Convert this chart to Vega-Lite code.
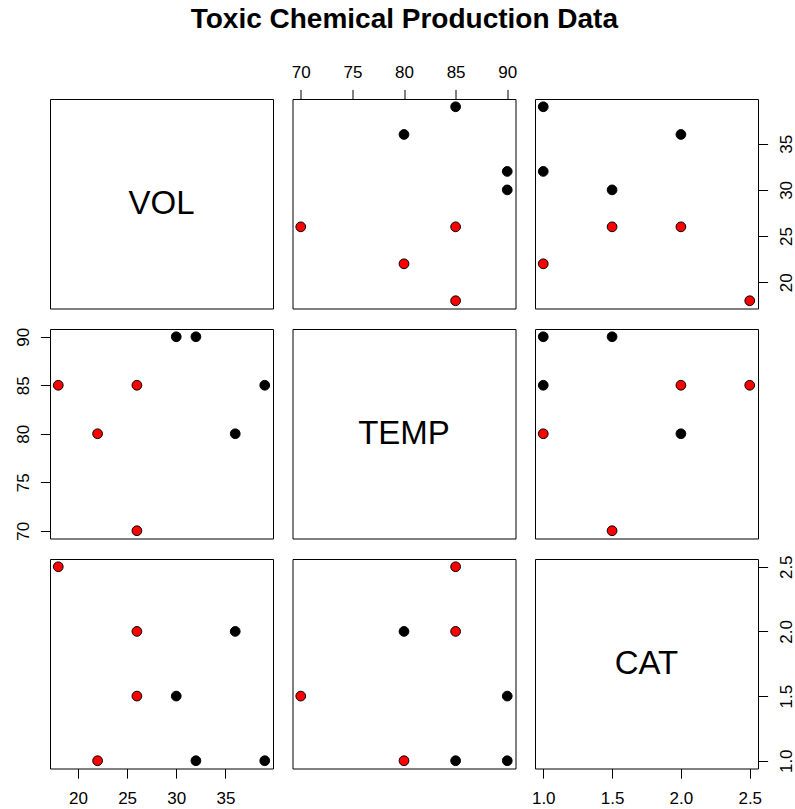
{
  "$schema": "https://vega.github.io/schema/vega-lite/v6.json",
  "title": {"text": "Toxic Chemical Production Data", "fontSize": 28, "fontWeight": "bold", "font": "Liberation Sans", "color": "black", "anchor": "middle", "frame": "bounds", "baseline": "alphabetic", "offset": 7},
  "padding": {"left": 13, "top": 5, "right": 0, "bottom": 0},
  "background": "white",
  "datasets": {
    "pts": [
      {"VOL": 18, "TEMP": 85, "CAT": 2.5, "group": "a"},
      {"VOL": 22, "TEMP": 80, "CAT": 1.0, "group": "a"},
      {"VOL": 26, "TEMP": 85, "CAT": 2.0, "group": "a"},
      {"VOL": 26, "TEMP": 70, "CAT": 1.5, "group": "a"},
      {"VOL": 30, "TEMP": 90, "CAT": 1.5, "group": "b"},
      {"VOL": 32, "TEMP": 90, "CAT": 1.0, "group": "b"},
      {"VOL": 36, "TEMP": 80, "CAT": 2.0, "group": "b"},
      {"VOL": 39, "TEMP": 85, "CAT": 1.0, "group": "b"}
    ],
    "labels": [
      {"label": "VOL", "pos": 28.5},
      {"label": "TEMP", "pos": 80},
      {"label": "CAT", "pos": 1.75}
    ]
  },
  "columns": 3,
  "spacing": {"row": 20, "column": 19.5},
  "bounds": "flush",
  "align": "all",
  "config": {
    "view": {"stroke": "black", "strokeWidth": 1},
    "axis": {"domain": false, "grid": false, "ticks": true, "tickColor": "black", "tickSize": 9.6, "tickWidth": 1, "labelFont": "Liberation Sans", "labelFontSize": 17, "labelColor": "black", "title": null, "labelOverlap": false, "labelFlush": false}
  },
  "concat": [
    {
      "width": 223, "height": 209.5,
      "data": {"name": "labels"},
      "transform": [{"filter": "datum.label === 'VOL'"}],
      "mark": {"type": "text", "fontSize": 33, "font": "Liberation Sans", "color": "black", "align": "center", "baseline": "middle"},
      "encoding": {
        "x": {"field": "pos", "type": "quantitative", "scale": {"domain": [17.16, 39.84], "nice": false, "zero": false}, "axis": null},
        "y": {"field": "pos", "type": "quantitative", "scale": {"domain": [17.16, 39.84], "nice": false, "zero": false}, "axis": null},
        "text": {"field": "label"}
      }
    },
    {
      "width": 223, "height": 209.5,
      "data": {"name": "pts"},
      "mark": {"type": "circle", "size": 95, "stroke": "black", "strokeWidth": 1, "opacity": 1},
      "encoding": {
        "x": {"field": "TEMP", "type": "quantitative", "scale": {"domain": [69.2, 90.8], "nice": false, "zero": false}, "axis": {"orient": "top", "values": [70, 75, 80, 85, 90], "labelBaseline": "alphabetic", "labelPadding": 12}},
        "y": {"field": "VOL", "type": "quantitative", "scale": {"domain": [17.16, 39.84], "nice": false, "zero": false}, "axis": null},
        "fill": {"field": "group", "type": "nominal", "scale": {"domain": ["a", "b"], "range": ["#ff0000", "#000000"]}, "legend": null}
      }
    },
    {
      "width": 223, "height": 209.5,
      "data": {"name": "pts"},
      "mark": {"type": "circle", "size": 95, "stroke": "black", "strokeWidth": 1, "opacity": 1},
      "encoding": {
        "x": {"field": "CAT", "type": "quantitative", "scale": {"domain": [0.94, 2.56], "nice": false, "zero": false}, "axis": null},
        "y": {"field": "VOL", "type": "quantitative", "scale": {"domain": [17.16, 39.84], "nice": false, "zero": false}, "axis": {"orient": "right", "values": [20, 25, 30, 35], "labelAngle": 270, "labelAlign": "center", "labelBaseline": "top", "labelPadding": 10.7}},
        "fill": {"field": "group", "type": "nominal", "scale": {"domain": ["a", "b"], "range": ["#ff0000", "#000000"]}, "legend": null}
      }
    },
    {
      "width": 223, "height": 209.5,
      "data": {"name": "pts"},
      "mark": {"type": "circle", "size": 95, "stroke": "black", "strokeWidth": 1, "opacity": 1},
      "encoding": {
        "x": {"field": "VOL", "type": "quantitative", "scale": {"domain": [17.16, 39.84], "nice": false, "zero": false}, "axis": null},
        "y": {"field": "TEMP", "type": "quantitative", "scale": {"domain": [69.2, 90.8], "nice": false, "zero": false}, "axis": {"orient": "left", "values": [70, 75, 80, 85, 90], "labelAngle": 270, "labelAlign": "center", "labelBaseline": "alphabetic", "labelPadding": 12}},
        "fill": {"field": "group", "type": "nominal", "scale": {"domain": ["a", "b"], "range": ["#ff0000", "#000000"]}, "legend": null}
      }
    },
    {
      "width": 223, "height": 209.5,
      "data": {"name": "labels"},
      "transform": [{"filter": "datum.label === 'TEMP'"}],
      "mark": {"type": "text", "fontSize": 33, "font": "Liberation Sans", "color": "black", "align": "center", "baseline": "middle"},
      "encoding": {
        "x": {"field": "pos", "type": "quantitative", "scale": {"domain": [69.2, 90.8], "nice": false, "zero": false}, "axis": null},
        "y": {"field": "pos", "type": "quantitative", "scale": {"domain": [69.2, 90.8], "nice": false, "zero": false}, "axis": null},
        "text": {"field": "label"}
      }
    },
    {
      "width": 223, "height": 209.5,
      "data": {"name": "pts"},
      "mark": {"type": "circle", "size": 95, "stroke": "black", "strokeWidth": 1, "opacity": 1},
      "encoding": {
        "x": {"field": "CAT", "type": "quantitative", "scale": {"domain": [0.94, 2.56], "nice": false, "zero": false}, "axis": null},
        "y": {"field": "TEMP", "type": "quantitative", "scale": {"domain": [69.2, 90.8], "nice": false, "zero": false}, "axis": null},
        "fill": {"field": "group", "type": "nominal", "scale": {"domain": ["a", "b"], "range": ["#ff0000", "#000000"]}, "legend": null}
      }
    },
    {
      "width": 223, "height": 209.5,
      "data": {"name": "pts"},
      "mark": {"type": "circle", "size": 95, "stroke": "black", "strokeWidth": 1, "opacity": 1},
      "encoding": {
        "x": {"field": "VOL", "type": "quantitative", "scale": {"domain": [17.16, 39.84], "nice": false, "zero": false}, "axis": {"orient": "bottom", "values": [20, 25, 30, 35], "labelBaseline": "top", "labelPadding": 12}},
        "y": {"field": "CAT", "type": "quantitative", "scale": {"domain": [0.94, 2.56], "nice": false, "zero": false}, "axis": null},
        "fill": {"field": "group", "type": "nominal", "scale": {"domain": ["a", "b"], "range": ["#ff0000", "#000000"]}, "legend": null}
      }
    },
    {
      "width": 223, "height": 209.5,
      "data": {"name": "pts"},
      "mark": {"type": "circle", "size": 95, "stroke": "black", "strokeWidth": 1, "opacity": 1},
      "encoding": {
        "x": {"field": "TEMP", "type": "quantitative", "scale": {"domain": [69.2, 90.8], "nice": false, "zero": false}, "axis": null},
        "y": {"field": "CAT", "type": "quantitative", "scale": {"domain": [0.94, 2.56], "nice": false, "zero": false}, "axis": null},
        "fill": {"field": "group", "type": "nominal", "scale": {"domain": ["a", "b"], "range": ["#ff0000", "#000000"]}, "legend": null}
      }
    },
    {
      "width": 223, "height": 209.5,
      "data": {"name": "labels"},
      "transform": [{"filter": "datum.label === 'CAT'"}],
      "mark": {"type": "text", "fontSize": 33, "font": "Liberation Sans", "color": "black", "align": "center", "baseline": "middle"},
      "encoding": {
        "x": {"field": "pos", "type": "quantitative", "scale": {"domain": [0.94, 2.56], "nice": false, "zero": false}, "axis": {"orient": "bottom", "values": [1.0, 1.5, 2.0, 2.5], "format": ".1f", "labelBaseline": "top", "labelPadding": 12}},
        "y": {"field": "pos", "type": "quantitative", "scale": {"domain": [0.94, 2.56], "nice": false, "zero": false}, "axis": {"orient": "right", "values": [1.0, 1.5, 2.0, 2.5], "format": ".1f", "labelAngle": 270, "labelAlign": "center", "labelBaseline": "top", "labelPadding": 10.7}},
        "text": {"field": "label"}
      }
    }
  ]
}
